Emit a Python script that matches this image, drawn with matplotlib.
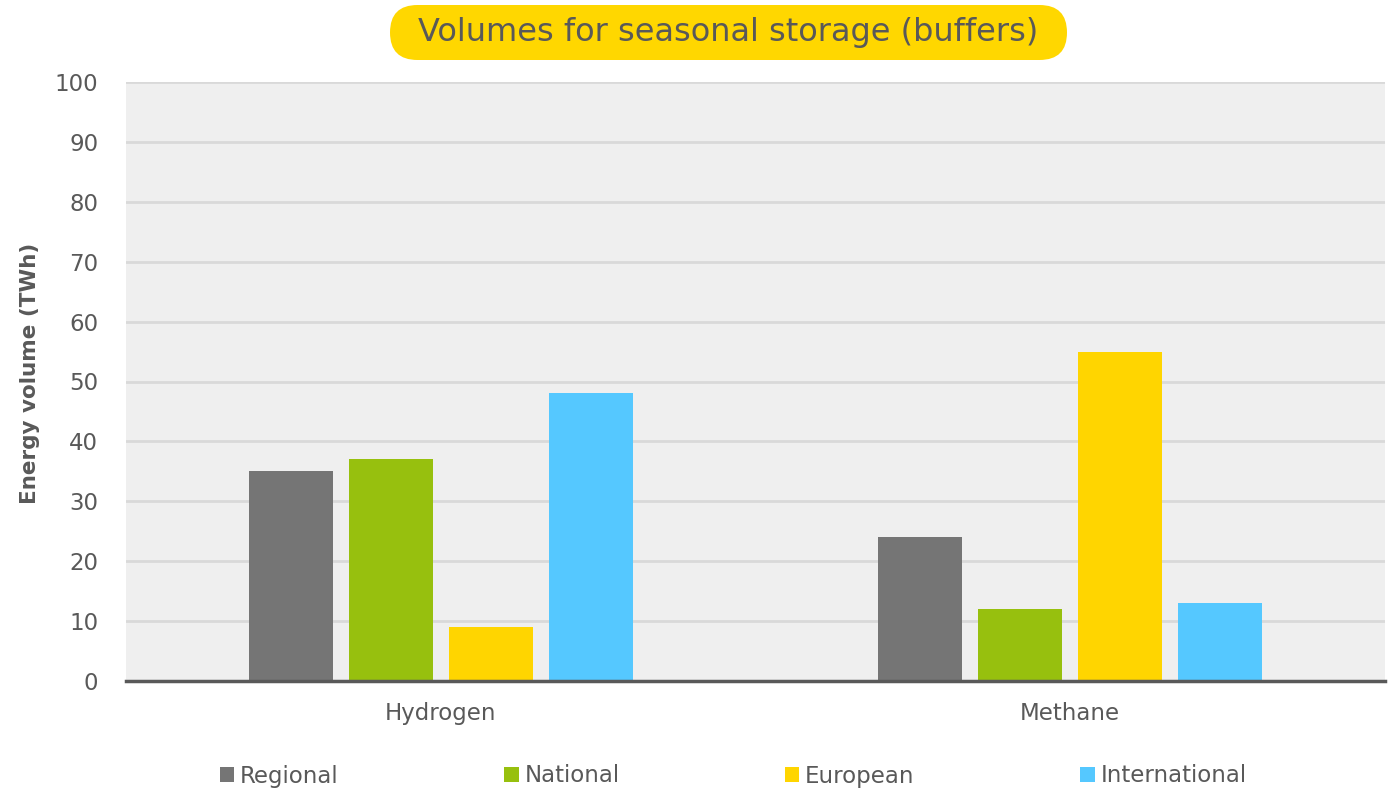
import numpy as np
import matplotlib.pyplot as plt
from matplotlib.patches import Patch, FancyBboxPatch

categories = ['Hydrogen', 'Methane']
series = ['Regional', 'National', 'European', 'International']
regional = [35, 24]
national = [37, 12]
european = [9, 55]
international = [48, 13]
colors = ['#757575', '#97C00E', '#FFD500', '#55C8FF']

values = [regional, national, european, international]

fig = plt.figure(figsize=(13.95, 7.90), dpi=100)
ax = fig.add_axes([126 / 1395, 1 - 681 / 790, 1259 / 1395, 599 / 790])
ax.set_facecolor('#EFEFEF')

x = np.arange(len(categories))
step = 100 / 629.5
width = 84 / 629.5
for i, vals in enumerate(values):
    ax.bar(x + (i - 1.5) * step, vals, width, color=colors[i], zorder=3)

ax.set_xlim(-0.5, 1.5)
ax.set_ylim(0, 100)
ax.set_yticks(range(0, 101, 10))
ax.set_xticks(x)
ax.set_xticklabels(categories)
ax.tick_params(axis='both', length=0, labelsize=16.5, colors='#595959')
ax.tick_params(axis='x', pad=15)
ax.tick_params(axis='y', pad=20)
ax.grid(axis='y', color='#D9D9D9', linewidth=2, zorder=0)
for s in ['top', 'right', 'left']:
    ax.spines[s].set_visible(False)
ax.spines['bottom'].set_color('#595959')
ax.spines['bottom'].set_linewidth(2.5)
ax.spines['bottom'].set_zorder(4)

fig.text(30 / 1395, 1 - 373 / 790, 'Energy volume (TWh)', rotation=90,
         ha='center', va='center', fontsize=15.5, fontweight='bold', color='#595959')

# title pill, drawn in pixel coordinates
top = fig.add_axes([0, 0, 1, 1], zorder=5)
top.set_xlim(0, 1395)
top.set_ylim(0, 790)
top.axis('off')
top.add_patch(FancyBboxPatch((390, 790 - 60), 677, 55,
                             boxstyle='round,pad=0,rounding_size=27.5',
                             fc='#FFD700', ec='none'))
top.text(728.5, 790 - 33, 'Volumes for seasonal storage (buffers)',
         ha='center', va='center', fontsize=23, color='#595959')

handles = [Patch(facecolor=c, edgecolor='none') for c in colors]
fig.legend(handles, series, loc='center', bbox_to_anchor=(733 / 1395, 1 - 776 / 790),
           ncol=4, frameon=False, fontsize=16.5, labelcolor='#595959',
           handlelength=0.65, handleheight=0.65, handletextpad=0.25, columnspacing=7.2)

plt.savefig('out.png', dpi=100)
